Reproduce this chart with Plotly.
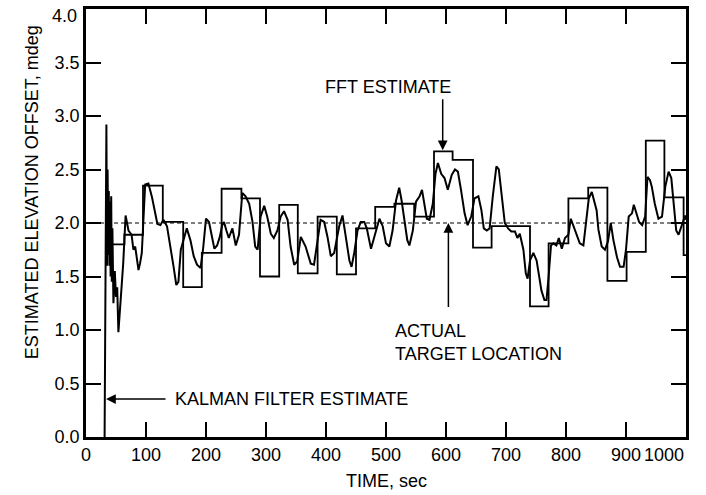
import plotly.graph_objects as go

# FFT estimate: step edges (sec) and step values (mdeg)
fft_edges = [43, 64, 95, 128, 162, 193, 226, 259, 290, 322, 353, 386, 418, 450, 482,
             514, 547, 580, 611, 645, 676, 708, 740, 771, 804, 837, 869, 901, 933, 964, 996, 1000]
fft_values = [1.80, 1.89, 2.35, 2.01, 1.40, 1.72, 2.32, 2.23, 1.50, 2.17, 1.53, 2.06, 1.52, 1.95, 2.15,
              2.18, 2.06, 2.67, 2.59, 1.77, 1.97, 1.97, 1.22, 1.81, 2.23, 2.33, 1.46, 1.73, 2.77, 2.24, 1.70]

# Kalman filter estimate
kal_t = [31, 34, 35, 36, 37, 38, 39, 40, 41, 42, 43, 44, 45.7, 48, 50, 52, 54, 57, 59.6, 62, 66, 70.8, 76, 79, 82,
         87.5, 90, 93, 98.6, 104, 110, 115, 119, 124, 129, 135, 140, 146, 150.5, 154, 158, 163, 168, 174,
         179.5, 185, 191, 195, 200, 205, 210, 214, 218.5, 223, 227, 230, 234, 238, 244, 249.6, 255, 260.5,
         266, 272, 277.5, 282, 286, 291, 297, 302, 308, 313, 319, 324.5, 330, 336, 341, 347, 352, 358,
         366, 374.6, 380, 385.7, 391, 397, 402.5, 408, 413.6, 422, 427.5, 433, 439, 442.6, 447, 452.6,
         458, 463.8, 468, 472, 475, 480.5, 489, 494.5, 500, 505.6, 511, 516.7, 522, 526, 531, 535.5,
         539, 544.7, 550, 556, 560, 564, 568, 572.5, 578, 582.5, 586.5, 592, 597.5, 603, 609.6, 615,
         619.8, 625, 631, 636, 642, 647.5, 654, 659, 663, 668, 672.7, 678, 684, 688, 692.6, 698, 703.5,
         709, 715, 719, 723, 729, 733, 736, 740, 745.6, 751, 755, 759, 764, 767.5, 771, 775, 779, 784,
         788, 793, 798.3, 804, 808, 812, 817.8, 823, 829, 834.5, 838, 843, 847, 851, 854, 859.5, 865,
         870, 874.6, 879, 885, 890, 896, 900, 904.5, 910, 913, 917, 921.8, 927, 931.9, 935.8, 940, 943,
         948, 954, 960, 965.5, 971, 975.5, 979, 983.7, 987.6, 993, 998.5, 1000]
kal_v = [0.0, 2.92, 1.60, 2.50, 1.70, 2.30, 1.60, 2.20, 1.50, 2.25, 1.45, 1.95, 1.25, 1.55, 1.31, 1.40, 0.98, 1.20, 1.37, 1.62, 2.07, 1.93, 1.89, 1.75, 1.78,
         1.56, 1.62, 1.72, 2.36, 2.37, 2.24, 2.08, 1.99, 1.98, 2.03, 1.97, 1.81, 1.59, 1.42, 1.45, 1.75, 1.86, 1.95, 1.84,
         1.69, 1.61, 1.58, 1.75, 2.04, 2.01, 1.86, 1.76, 1.79, 1.87, 1.98, 2.01, 1.93, 1.86, 1.95, 1.79, 1.89, 2.28,
         2.25, 2.18, 2.01, 1.78, 1.75, 2.06, 2.16, 2.06, 1.90, 1.86, 1.93, 2.06, 2.11, 2.03, 1.78, 1.61, 1.64, 1.87,
         1.78, 1.62, 1.61, 1.81, 2.03, 2.01, 1.87, 1.69, 1.72, 1.97, 2.07, 1.87, 1.65, 1.59, 1.72, 1.93,
         2.01, 2.01, 1.95, 1.84, 1.76, 1.87, 2.04, 1.97, 1.81, 1.78, 1.93, 2.21, 2.33, 2.21, 2.00, 1.84,
         1.79, 1.93, 2.20, 2.25, 2.31, 2.18, 2.04, 2.03, 2.18, 2.46, 2.56, 2.46, 2.42, 2.31, 2.45, 2.50,
         2.48, 2.31, 2.09, 1.98, 2.06, 2.23, 2.25, 2.12, 1.95, 1.93, 1.95, 2.25, 2.53, 2.50, 2.25, 2.00, 1.95,
         1.92, 1.92, 1.86, 1.90, 1.75, 1.53, 1.48, 1.65, 1.72, 1.65, 1.52, 1.37, 1.28, 1.28, 1.50, 1.79, 1.81, 1.79,
         1.86, 1.76, 1.86, 1.89, 2.04, 1.98, 1.90, 1.81, 1.79, 2.06, 2.23, 2.29, 2.20, 2.12, 1.94, 1.78, 1.75,
         1.83, 2.00, 1.84, 1.68, 1.59, 1.59, 1.75, 2.06, 2.09, 2.17, 2.09, 2.01, 1.98, 2.06, 2.43, 2.40, 2.34,
         2.18, 2.04, 2.06, 2.34, 2.48, 2.42, 2.18, 1.93, 1.89, 1.97, 2.07, 2.03]

actual_location = 2.0
x_ticks = [0, 100, 200, 300, 400, 500, 600, 700, 800, 900, 1000]
y_ticks = [0.0, 0.5, 1.0, 1.5, 2.0, 2.5, 3.0, 3.5, 4.0]

FONT = "Liberation Sans, Arial, sans-serif"

fig = go.Figure()
fig.add_trace(go.Scatter(x=[0, 1000], y=[actual_location, actual_location], mode="lines",
                         line=dict(color="black", width=1.2, dash="4px,3px"), hoverinfo="skip"))
fig.add_trace(go.Scatter(x=fft_edges, y=fft_values + [fft_values[-1]], mode="lines",
                         line=dict(color="black", width=1.8, shape="hv"), hoverinfo="skip"))
fig.add_trace(go.Scatter(x=kal_t, y=kal_v, mode="lines",
                         line=dict(color="black", width=2), hoverinfo="skip"))

axis_common = dict(showline=True, linecolor="black", linewidth=2.5, mirror="allticks",
                   ticks="inside", ticklen=15, tickwidth=1.5, tickcolor="black",
                   showgrid=False, zeroline=False, automargin=False,
                   tickfont=dict(family=FONT, size=18, color="black"))

# end labels are drawn as annotations, shifted inward as in the original
x_ticktext = [str(v) for v in x_ticks[:-1]] + [""]
y_ticktext = [f"{v:.1f}" for v in y_ticks[:-1]] + [""]

fig.update_layout(
    width=706, height=495,
    margin=dict(l=86, r=20, t=9, b=58),
    paper_bgcolor="white", plot_bgcolor="white",
    showlegend=False,
    font=dict(family=FONT, color="black"),
    xaxis=dict(range=[0, 1000], tickvals=x_ticks, ticktext=x_ticktext, **axis_common),
    yaxis=dict(range=[0, 4], tickvals=y_ticks, ticktext=y_ticktext, **axis_common),
)

fig.add_annotation(text=str(x_ticks[-1]), xref="x", yref="paper", x=x_ticks[-1], y=0,
                   yshift=-6, showarrow=False, xanchor="right", yanchor="top",
                   font=dict(family=FONT, size=18, color="black"))
fig.add_annotation(text=f"{y_ticks[-1]:.1f}", xref="paper", yref="y", x=0, y=y_ticks[-1],
                   xshift=-7, yshift=-7, showarrow=False, xanchor="right", yanchor="middle",
                   font=dict(family=FONT, size=18, color="black"))

# x axis title
fig.add_annotation(text="TIME, sec", xref="paper", yref="paper", x=0.5, y=0, yshift=-44,
                   showarrow=False, xanchor="center", yanchor="middle",
                   font=dict(family=FONT, size=18, color="black"))

# y axis title as rotated annotation
fig.add_annotation(text="ESTIMATED ELEVATION OFFSET, mdeg", xref="paper", yref="paper",
                   x=-0.09, y=0.572, showarrow=False, textangle=-90,
                   font=dict(family=FONT, size=18, color="black"), xanchor="center", yanchor="middle")

# Kalman annotation
fig.add_annotation(x=33.4, y=0.355, ax=135, ay=0.355, xref="x", yref="y", axref="x", ayref="y",
                   text="", showarrow=True, arrowhead=2, arrowsize=1.3, arrowwidth=1.5, arrowcolor="black")
fig.add_annotation(x=145, y=0.355, xref="x", yref="y", text="KALMAN FILTER ESTIMATE", showarrow=False,
                   xanchor="left", yanchor="middle", font=dict(family=FONT, size=18, color="black"))

# FFT annotation
fig.add_annotation(x=594.5, y=2.68, ax=594.5, ay=3.17, xref="x", yref="y", axref="x", ayref="y",
                   text="", showarrow=True, arrowhead=2, arrowsize=1.3, arrowwidth=1.5, arrowcolor="black")
fig.add_annotation(x=612, y=3.27, xref="x", yref="y", text="FFT ESTIMATE", showarrow=False,
                   xanchor="right", yanchor="middle", font=dict(family=FONT, size=18, color="black"))

# Actual target annotation
fig.add_annotation(x=604, y=2.0, ax=604, ay=1.2, xref="x", yref="y", axref="x", ayref="y",
                   text="", showarrow=True, arrowhead=2, arrowsize=1.3, arrowwidth=1.5, arrowcolor="black")
fig.add_annotation(x=511, y=1.1, xref="x", yref="y", text="ACTUAL<br>TARGET LOCATION", showarrow=False,
                   xanchor="left", yanchor="top", align="left",
                   font=dict(family=FONT, size=18, color="black"))

fig.write_html("out.html")
